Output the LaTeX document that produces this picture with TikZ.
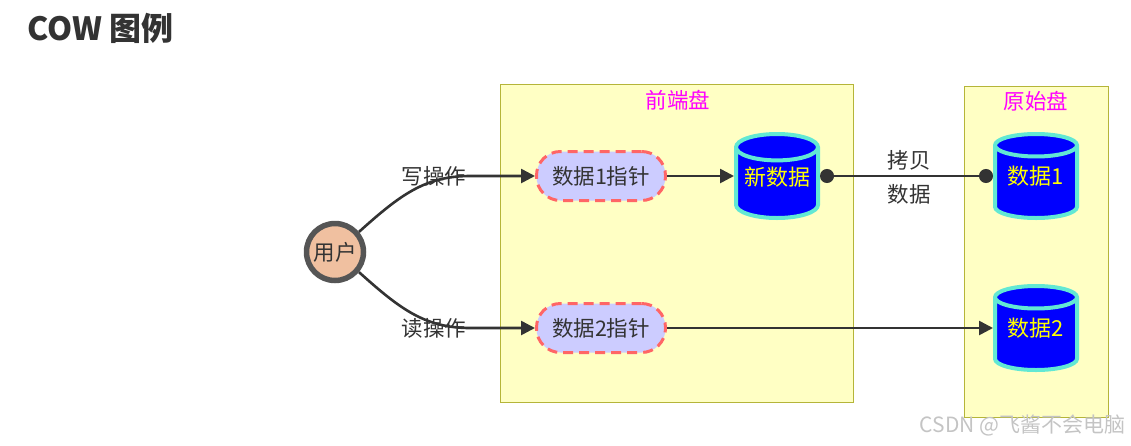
\documentclass[tikz,border=0pt]{standalone}
\usepackage{fontspec}
\setmainfont{Noto Sans CJK SC}
\usetikzlibrary{shapes.geometric,arrows.meta}
\definecolor{txt}{HTML}{333333}
\definecolor{boxfill}{HTML}{FFFFC4}
\definecolor{boxline}{HTML}{B5B539}
\definecolor{pillfill}{HTML}{CCCCFF}
\definecolor{pillline}{HTML}{FF6666}
\definecolor{userfill}{HTML}{F0C0A0}
\definecolor{userline}{HTML}{555555}
\definecolor{cylline}{HTML}{62E8D4}
\definecolor{magentalabel}{HTML}{FF00FF}
\definecolor{cyltext}{HTML}{FFFF00}
\definecolor{wm}{HTML}{C4C4C4}
\tikzset{
  body/.style={font=\fontsize{21.5}{26}\selectfont, text=txt},
  disk/.style={draw=boxline, fill=boxfill, line width=1pt, rectangle, inner sep=0pt},
  disklabel/.style={font=\fontsize{21.5}{26}\selectfont, text=magentalabel},
  pill/.style={body, draw=pillline, fill=pillfill, line width=3pt, dash pattern=on 10pt off 6pt,
     rectangle, rounded corners=24pt, minimum width=129pt, minimum height=49pt, inner sep=0pt},
  usernode/.style={body, circle, draw=userline, fill=userfill, line width=5.5pt, minimum size=57pt, inner sep=0pt},
  cyl/.style={cylinder, shape border rotate=90, aspect=0.4, draw=cylline, line width=4pt, fill=blue,
     text=cyltext, font=\fontsize{22}{26}\selectfont, minimum width=82pt, minimum height=84pt,
     inner sep=0pt, anchor=shape center, text height=10pt, text depth=7pt},
  arr/.style={draw=txt, line width=2.6pt, -{Triangle[length=14pt,width=14pt]}},
  dotted line/.style={draw=txt, line width=2.6pt, {Circle[length=14pt]}-{Circle[length=14pt]}},
}
\begin{document}
\begin{tikzpicture}[x=1pt,y=-1pt]
\useasboundingbox (0,0) rectangle (1131,445);
\node[anchor=west, font=\fontsize{32}{36}\selectfont\bfseries, text=txt] (title) at (24,28) {COW 图例};
% disks
\node[disk, minimum width=353pt, minimum height=318pt] (front) at (676.5,243) {};
\node[disk, minimum width=144pt, minimum height=331pt] (orig) at (1036,251.5) {};
\node[disklabel] (frontlabel) at (678,100) {前端盘};
\node[disklabel] (origlabel) at (1036,101) {原始盘};
% nodes
\node[usernode] (user) at (335,252) {用户};
\node[pill] (p1) at (601,176) {数据1指针};
\node[pill] (p2) at (601,328) {数据2指针};
\node[cyl] (new) at (777,176) {新数据};
\node[cyl] (d1) at (1036,176) {数据1};
\node[cyl] (d2) at (1036,328) {数据2};
\coordinate (newW) at (new.west |- new.shape center);
\coordinate (newE) at (new.east |- new.shape center);
\coordinate (d1W) at (d1.west |- d1.shape center);
\coordinate (d2W) at (d2.west |- d2.shape center);
% edges
\draw[arr] (user.40) .. controls (400,195) and (425,176) .. (470,176) -- (p1);
\draw[arr] (user.-40) .. controls (400,309) and (425,328) .. (470,328) -- (p2);
\node[body] (wlabel) at (434,176) {写操作};
\node[body] (rlabel) at (434,328) {读操作};
\draw[arr] (p1.east) -- (newW);
\draw[dotted line] (newE) -- (d1W);
\node[body, align=center] (copylabel) at (909,177) {拷贝\\[8pt]数据};
\draw[arr] (p2.east) -- (d2W);
% watermark
\node[font=\fontsize{21}{24}\selectfont, text=wm, anchor=east] (wmark) at (1129,425) {CSDN @飞酱不会电脑};
\end{tikzpicture}
\end{document}
